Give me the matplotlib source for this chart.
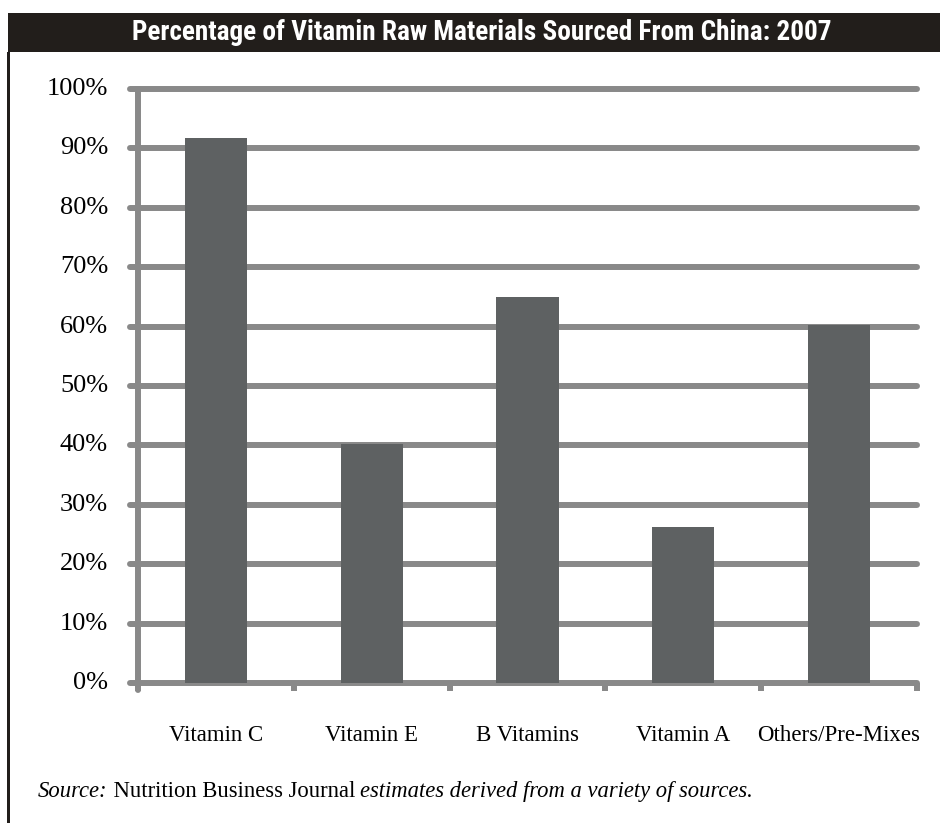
import matplotlib.pyplot as plt
import matplotlib.patches as patches

# Share of each raw material sourced from China (percent)
categories = ['Vitamin C', 'Vitamin E', 'B Vitamins', 'Vitamin A', 'Others/Pre-Mixes']
share = [91.7, 40.2, 65.0, 26.3, 60.3]
ytick_vals = [0, 10, 20, 30, 40, 50, 60, 70, 80, 90, 100]
ytick_labels = ['%d%%' % v for v in ytick_vals]

title = 'Percentage of Vitamin Raw Materials Sourced From China: 2007'

bar_color = '#5e6162'
line_color = '#898989'
dark = '#221e1b'
serif = ['Liberation Serif', 'DejaVu Serif']

W, H = 940, 823
fig = plt.figure(figsize=(W / 100, H / 100), dpi=100)

# dark title band and left frame line
fig.add_artist(patches.Rectangle((8 / W, 1 - 52 / H), 1, 39 / H,
                                 transform=fig.transFigure, color=dark, lw=0))
fig.add_artist(patches.Rectangle((7 / W, 0), 3 / W, 1 - 52 / H,
                                 transform=fig.transFigure, color=dark, lw=0))
fig.text(482 / W, 1 - 32 / H, title, color='white', fontsize=19.6, fontweight='bold',
         fontstretch='condensed',
         family=['Roboto Condensed', 'Open Sans Condensed', 'Roboto', 'DejaVu Sans'],
         ha='center', va='center')

ax = fig.add_axes([138 / W, (H - 683) / H, 779 / W, 594 / H])
ax.set_xlim(-0.5, len(categories) - 0.5)
ax.set_ylim(0, 100)
ax.axis('off')

n = len(categories)
px = 1 / 155.8  # one pixel in category units
lw = 4.3

# horizontal gridlines, stretched a little past the y axis
for v, lab in zip(ytick_vals, ytick_labels):
    ax.plot([-0.5 - 8 * px, n - 0.5], [v, v], color=line_color, lw=lw,
            solid_capstyle='round', clip_on=False, zorder=1)
    ax.text(-0.5 - 30 * px, v, lab, family=serif, fontsize=19,
            ha='right', va='center')

# vertical axis and category tick marks
ax.plot([-0.5, -0.5], [-1.2, 100], color=line_color, lw=lw,
        solid_capstyle='round', clip_on=False, zorder=1)
for k in range(n + 1):
    ax.plot([k - 0.5, k - 0.5], [0, -1.3], color=line_color, lw=lw,
            solid_capstyle='butt', clip_on=False, zorder=1)

ax.bar(range(n), share, width=0.4, color=bar_color, zorder=2)

for i, c in enumerate(categories):
    ax.text(i, -8.8, c, family=serif, fontsize=16.5, ha='center', va='center')

# source note with mixed italic / roman runs
src = fig.text(38 / W, 1 - 797 / H, 'Source:', family=serif, style='italic',
               fontsize=16.3, va='baseline')
t2 = ax.annotate(' Nutrition Business Journal ', xy=(1, 0), xycoords=src,
                 family=serif, fontsize=16.3, va='bottom', annotation_clip=False)
ax.annotate('estimates derived from a variety of sources.', xy=(1, 0), xycoords=t2,
            family=serif, style='italic', fontsize=16.3, va='bottom',
            annotation_clip=False)

fig.savefig('out.png', dpi=100)
